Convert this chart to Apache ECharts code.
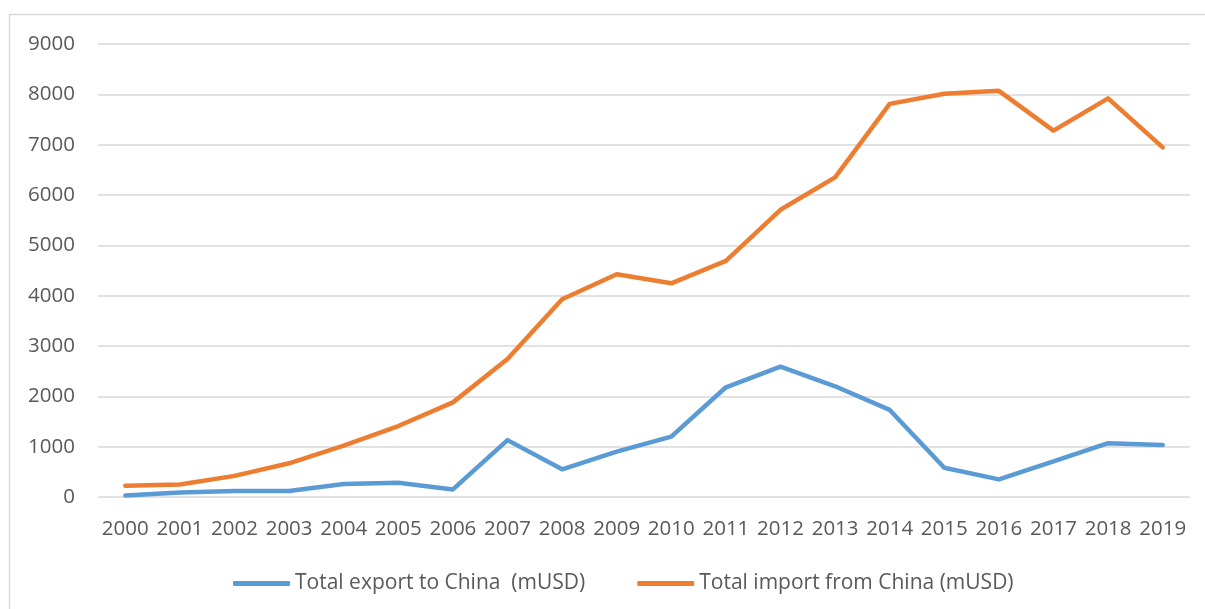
<!DOCTYPE html>
<html>
<head>
<meta charset="utf-8">
<script src="https://cdn.jsdelivr.net/npm/echarts@6/dist/echarts.min.js"></script>
<style>
html,body{margin:0;padding:0;background:#fff;}
#chart{width:1205px;height:609px;}
</style>
</head>
<body>
<div id="chart"></div>
<script>
const years = ['2000','2001','2002','2003','2004','2005','2006','2007','2008','2009','2010','2011','2012','2013','2014','2015','2016','2017','2018','2019'];
const exportToChina = [30, 90, 120, 120, 260, 285, 150, 1130, 550, 900, 1200, 2180, 2590, 2200, 1730, 580, 350, 710, 1070, 1035];
const importFromChina = [225, 250, 420, 670, 1020, 1410, 1880, 2740, 3930, 4425, 4245, 4690, 5706, 6350, 7810, 8010, 8070, 7280, 7920, 6945];
const seriesNames = ['Total export to China  (mUSD)', 'Total import from China (mUSD)'];

const font = '"Open Sans", sans-serif';
const txt = '#595959';
const chart = echarts.init(document.getElementById('chart'), null, {renderer: 'canvas'});
chart.setOption({
  animation: false,
  backgroundColor: '#fff',
  graphic: [{
    type: 'rect', silent: true,
    shape: {x: 9.5, y: 14.5, width: 1220, height: 620},
    style: {fill: 'none', stroke: '#d9d9d9', lineWidth: 1.5}
  }],
  grid: {left: 98, right: 15, top: 44, bottom: 112},
  legend: {
    bottom: 10, left: 228,
    icon: 'roundRect',
    itemWidth: 57, itemHeight: 5, itemGap: 52,
    textStyle: {color: txt, fontFamily: font, fontSize: 21},
    data: seriesNames
  },
  xAxis: {
    type: 'category', data: years, boundaryGap: true,
    axisLine: {show: false}, axisTick: {show: false},
    axisLabel: {color: txt, fontFamily: font, fontSize: 20.5, margin: 22, interval: 0}
  },
  yAxis: {
    type: 'value', min: 0, max: 9000, interval: 1000,
    axisLine: {show: false}, axisTick: {show: false},
    axisLabel: {color: txt, fontFamily: font, fontSize: 20.5, margin: 23, formatter: v => String(v)},
    splitLine: {lineStyle: {color: '#d9d9d9', width: 1.5}}
  },
  series: [
    {name: seriesNames[0], type: 'line', data: exportToChina, symbol: 'none',
     lineStyle: {color: '#5B9BD5', width: 4.5, cap: 'round', join: 'round'}, itemStyle: {color: '#5B9BD5'}},
    {name: seriesNames[1], type: 'line', data: importFromChina, symbol: 'none',
     lineStyle: {color: '#ED7D31', width: 4.5, cap: 'round', join: 'round'}, itemStyle: {color: '#ED7D31'}}
  ]
});
</script>
</body>
</html>
